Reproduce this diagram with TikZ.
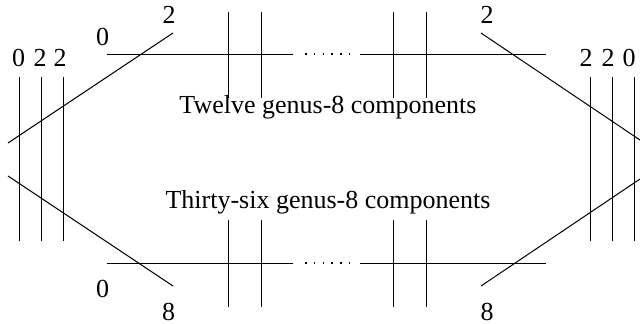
\documentclass[tikz,border=0pt]{standalone}
\usepackage{fontspec}
\setmainfont{Liberation Serif}
\usetikzlibrary{positioning}

\begin{document}
\begin{tikzpicture}[x=0.4pt, y=-0.4pt,
    curve/.style={line width=0.4pt, black},
    dotrow/.style={line width=0.6pt, black, dash pattern=on 0.6pt off 2.9pt},
    lab/.style={inner sep=0pt, anchor=base, font=\fontsize{10.4}{12}\selectfont},
    caption/.style={inner sep=0pt, anchor=base, font=\fontsize{10.4}{12}\selectfont}
]
\useasboundingbox (0,0) rectangle (640,323);

% end points of the curves
\coordinate (tl1) at (8,143);   \coordinate (tl2) at (173,33);
\coordinate (bl1) at (8,176);   \coordinate (bl2) at (173,286);
\coordinate (tr1) at (481,33);  \coordinate (tr2) at (640,140);
\coordinate (br1) at (481,286); \coordinate (br2) at (640,179);

% left and right vertical components
\draw[curve] (19,77) -- (19,241);
\draw[curve] (41,77) -- (41,241);
\draw[curve] (63,77) -- (63,241);
\draw[curve] (590,77) -- (590,241);
\draw[curve] (612,77) -- (612,241);
\draw[curve] (634,77) -- (634,241);

% diagonal curves
\draw[curve] (tl1) -- (tl2);
\draw[curve] (bl1) -- (bl2);
\draw[curve] (tr1) -- (tr2);
\draw[curve] (br1) -- (br2);

% top chain
\draw[curve] (107,54) -- (293,54);
\draw[dotrow] (305,54) -- (350,54);
\draw[curve] (360,54) -- (546,54);
\draw[curve] (228,12) -- (228,98);
\draw[curve] (261,12) -- (261,98);
\draw[curve] (393,12) -- (393,98);
\draw[curve] (426,12) -- (426,98);

% bottom chain
\draw[curve] (107,263) -- (293,263);
\draw[dotrow] (305,263) -- (350,263);
\draw[curve] (360,263) -- (546,263);
\draw[curve] (228,220) -- (228,307);
\draw[curve] (261,220) -- (261,307);
\draw[curve] (393,220) -- (393,307);
\draw[curve] (426,220) -- (426,307);

% genus labels
\node[lab] (gl1) at (18.5,66.5) {0};
\node[lab] (gl2) at (40,66.5) {2};
\node[lab] (gl3) at (60,66.5) {2};
\node[lab] (gr1) at (586,66.5) {2};
\node[lab] (gr2) at (608,66.5) {2};
\node[lab] (gr3) at (629,66.5) {0};
\node[lab] (gt0) at (102.5,45) {0};
\node[lab] (gt1) at (169,23) {2};
\node[lab] (gt2) at (487,23) {2};
\node[lab] (gb0) at (102.5,297) {0};
\node[lab] (gb1) at (168.5,320) {8};
\node[lab] (gb2) at (487,320) {8};

\node[caption] (twelve) at (328,113) {Twelve genus-8 components};
\node[caption] (thirty) at (328,208) {Thirty-six genus-8 components};
\end{tikzpicture}
\end{document}
